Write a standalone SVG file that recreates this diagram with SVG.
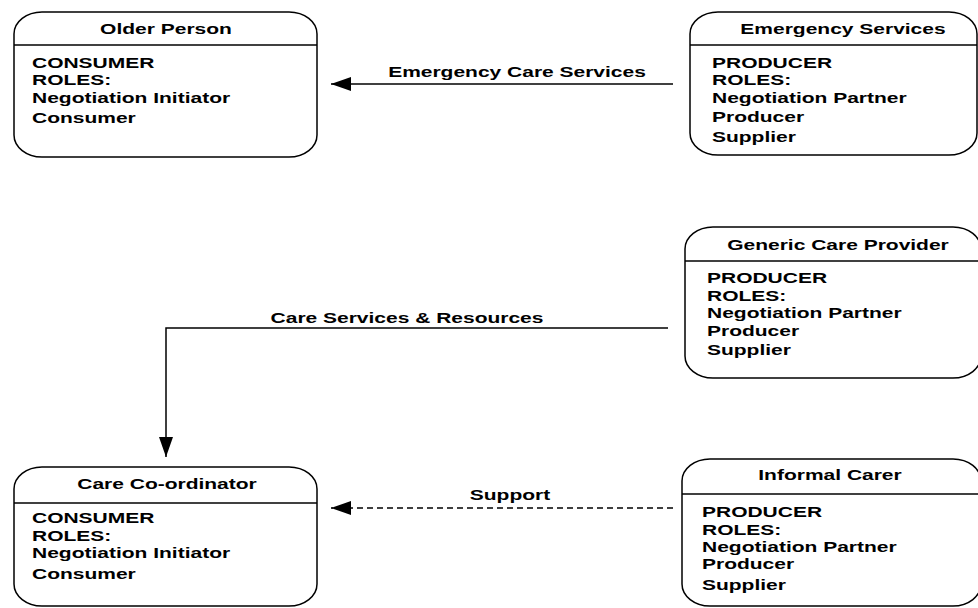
<svg xmlns="http://www.w3.org/2000/svg" width="978" height="608" viewBox="0 0 978 608">
<style>
.box{fill:#fff;stroke:#000;stroke-width:1.5}
.div{stroke:#000;stroke-width:1.5}
text{font-family:"Liberation Sans",Arial,sans-serif;font-weight:bold;font-size:14px;fill:#000}
.t{text-anchor:middle}
.c{stroke:#000;stroke-width:1.5;fill:none}
.dash{stroke-dasharray:6 4}
</style>
<defs>
<marker id="ah" viewBox="0 0 20 14" refX="20" refY="7" markerWidth="20" markerHeight="14" markerUnits="userSpaceOnUse" orient="auto">
<path d="M0,0 L20,7 L0,14 Z" fill="#000"/>
</marker>
</defs>
<g id="connectors">
<line class="c" x1="673" y1="84" x2="331" y2="84" marker-end="url(#ah)"/>
<text transform="translate(517,77) scale(1.5,1)" class="t">Emergency Care Services</text>
<polyline class="c" points="668,328 166,328 166,457" marker-end="url(#ah)"/>
<text transform="translate(407,323) scale(1.5,1)" class="t">Care Services &amp; Resources</text>
<line class="c dash" x1="673" y1="508" x2="331" y2="508" marker-end="url(#ah)"/>
<text transform="translate(510,500) scale(1.5,1)" class="t">Support</text>
</g>
<g id="older-person">
<rect class="box" x="14" y="12" width="303" height="145" rx="28" ry="22"/>
<line class="div" x1="14" y1="45" x2="317" y2="45"/>
<text transform="translate(166,34) scale(1.5,1)" class="t">Older Person</text>
<text transform="translate(32,68) scale(1.5,1)">CONSUMER</text>
<text transform="translate(32,85) scale(1.5,1)">ROLES:</text>
<text transform="translate(32,103) scale(1.5,1)">Negotiation Initiator</text>
<text transform="translate(32,123) scale(1.5,1)">Consumer</text>
</g>
<g id="emergency-services">
<rect class="box" x="690" y="12" width="287" height="143" rx="28" ry="22"/>
<line class="div" x1="690" y1="45" x2="977" y2="45"/>
<text transform="translate(843,34) scale(1.5,1)" class="t">Emergency Services</text>
<text transform="translate(712,68) scale(1.5,1)">PRODUCER</text>
<text transform="translate(712,85) scale(1.5,1)">ROLES:</text>
<text transform="translate(712,103) scale(1.5,1)">Negotiation Partner</text>
<text transform="translate(712,122) scale(1.5,1)">Producer</text>
<text transform="translate(712,142) scale(1.5,1)">Supplier</text>
</g>
<g id="generic-care-provider">
<rect class="box" x="685" y="227" width="296" height="151" rx="28" ry="22"/>
<line class="div" x1="685" y1="261" x2="981" y2="261"/>
<text transform="translate(838,250) scale(1.5,1)" class="t">Generic Care Provider</text>
<text transform="translate(707,283) scale(1.5,1)">PRODUCER</text>
<text transform="translate(707,301) scale(1.5,1)">ROLES:</text>
<text transform="translate(707,318) scale(1.5,1)">Negotiation Partner</text>
<text transform="translate(707,336) scale(1.5,1)">Producer</text>
<text transform="translate(707,355) scale(1.5,1)">Supplier</text>
</g>
<g id="care-co-ordinator">
<rect class="box" x="14" y="467" width="303" height="139" rx="28" ry="22"/>
<line class="div" x1="14" y1="503" x2="317" y2="503"/>
<text transform="translate(167,489) scale(1.5,1)" class="t">Care Co-ordinator</text>
<text transform="translate(32,523) scale(1.5,1)">CONSUMER</text>
<text transform="translate(32,541) scale(1.5,1)">ROLES:</text>
<text transform="translate(32,558) scale(1.5,1)">Negotiation Initiator</text>
<text transform="translate(32,579) scale(1.5,1)">Consumer</text>
</g>
<g id="informal-carer">
<rect class="box" x="682" y="459" width="299" height="147" rx="28" ry="22"/>
<line class="div" x1="682" y1="494" x2="981" y2="494"/>
<text transform="translate(830,480) scale(1.5,1)" class="t">Informal Carer</text>
<text transform="translate(702,517) scale(1.5,1)">PRODUCER</text>
<text transform="translate(702,535) scale(1.5,1)">ROLES:</text>
<text transform="translate(702,552) scale(1.5,1)">Negotiation Partner</text>
<text transform="translate(702,569) scale(1.5,1)">Producer</text>
<text transform="translate(702,590) scale(1.5,1)">Supplier</text>
</g>
</svg>
